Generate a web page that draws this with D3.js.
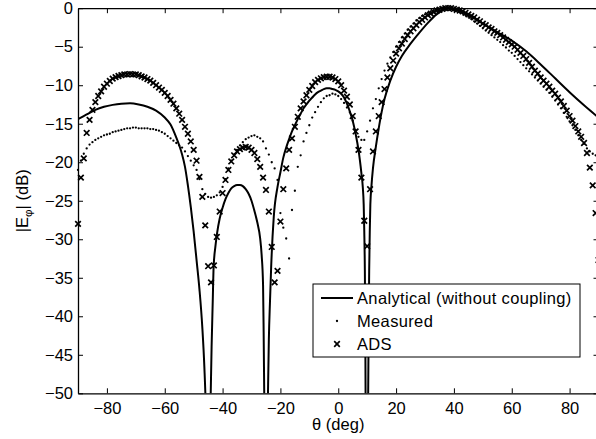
<!DOCTYPE html>
<html><head><meta charset="utf-8">
<script src="https://cdn.jsdelivr.net/npm/d3@7"></script>
<style>
html,body{margin:0;padding:0;background:#fff;}
svg{display:block;font-family:"Liberation Sans",Arial,Helvetica,sans-serif;}
</style></head>
<body><svg id="chart" width="596" height="439"></svg>
<script>
// ---- data ----
const xTicks = [-80, -60, -40, -20, 0, 20, 40, 60, 80];
const yTicks = [0, -5, -10, -15, -20, -25, -30, -35, -40, -45, -50];
const seriesNames = ["Analytical (without coupling)", "Measured", "ADS"];

// Analytical (solid line): angle / value pairs
const analyticalTheta = [-90,-87,-84,-81,-78,-75,-72,-69,-66,-63,-60,-58,-56,-55,-54,-53,-52,-51,-50,-49,-48,-47,-46.3,-45.8,-45,-44.2,-43.8,-43.4,-43.1,-42.5,-41.9,-41,-40,-39,-38,-37,-36,-35,-34,-33,-32,-31,-30,-29,-28,-27,-26.5,-26,-25.8,-25.6,-25,-24.3,-24,-23.6,-23.2,-22.3,-21,-20,-19,-18,-17,-16,-15,-14,-13,-12,-11,-10,-9,-8,-7,-6,-5,-4,-3,-2,-1,0,1,2,3,4,5,6,7,7.5,8,8.5,8.8,9,9.2,9.35,9.45,9.9,10.35,10.5,10.7,10.9,11.1,11.5,12,13,14,15,16,18,20,22,25,28,31,34,37,38,40,43,46,50,55,60,65,70,75,80,85,90];
const analyticalDb = [-14.4,-13.8,-13.2,-12.8,-12.55,-12.4,-12.35,-12.5,-12.8,-13.3,-14.2,-15.1,-16.8,-17.8,-19.0,-20.6,-23.0,-25.8,-29.0,-32.7,-36.5,-41.5,-46.6,-52,-70,-52,-44,-38,-33.6,-31,-29.2,-27.3,-25.9,-24.8,-24.0,-23.4,-23.1,-22.95,-22.95,-23.1,-23.5,-24.1,-25.0,-26.3,-27.8,-29.9,-32,-36,-42,-50,-70,-50,-43,-38,-33.6,-27.1,-23.2,-21.3,-19.4,-18.1,-17.0,-16.0,-15.2,-14.4,-13.7,-13.0,-12.5,-12.0,-11.6,-11.2,-10.9,-10.7,-10.5,-10.4,-10.4,-10.5,-10.6,-10.8,-11.1,-11.6,-12.4,-13.4,-14.6,-16.3,-18.4,-19.8,-21.4,-23.3,-25.5,-29,-34,-42,-50,-70,-50,-42,-34,-29,-25.5,-23,-20.8,-18,-15.6,-13.5,-11.8,-9.4,-7.6,-6.2,-4.6,-3.2,-1.9,-0.8,-0.1,0,-0.1,-0.5,-1.1,-2.0,-3.1,-4.2,-5.6,-7.3,-9.1,-10.9,-12.6,-14.2];

// Measured and ADS are sampled every degree from -90 to 90
const sampleTheta = d3.range(-90, 91, 1);
const measuredDb = [
-21,-19.8,-18.9,-18.2,-17.7,-17.4,-17.1,-16.9,-16.7,-16.5,
-16.4,-16.3,-16.1,-16.0,-15.9,-15.8,-15.7,-15.6,-15.6,-15.5,
-15.5,-15.6,-15.6,-15.6,-15.6,-15.7,-15.7,-15.8,-15.9,-16.1,
-16.3,-16.6,-16.9,-17.2,-17.5,-17.8,-18.1,-18.6,-19.2,-19.8,
-20.4,-21.0,-22.2,-23.5,-24.1,-24.5,-24.6,-24.5,-24.3,-23.9,
-23.2,-22.2,-20.8,-19.8,-19.0,-18.4,-17.8,-17.4,-17.0,-16.8,
-16.6,-16.5,-16.7,-16.9,-17.3,-18.2,-19.0,-20.0,-20.8,-22.3,
-26.6,-28.5,-29.9,-32.5,-26.2,-23.7,-20.6,-19.1,-17.3,-16.2,
-15.2,-14.2,-13.5,-12.8,-12.2,-11.7,-11.4,-11.3,-11.1,-11.2,
-11.4,-11.8,-12.3,-12.9,-13.5,-14.6,-15.8,-16.7,-17.1,-17.1,
-16.0,-14.6,-13.0,-11.8,-10.4,-9.2,-8.1,-7.2,-6.4,-5.7,
-5.0,-4.4,-3.8,-3.3,-2.8,-2.4,-2.0,-1.6,-1.3,-1.0,
-0.8,-0.6,-0.4,-0.25,-0.1,-0.05,0,0,0,-0.1,
-0.2,-0.3,-0.5,-0.7,-0.9,-1.1,-1.4,-1.7,-2.0,-2.3,
-2.6,-2.9,-3.2,-3.5,-3.8,-4.1,-4.4,-4.8,-5.1,-5.5,
-5.8,-6.2,-6.6,-7.0,-7.4,-7.8,-8.2,-8.6,-9.0,-9.4,
-9.8,-10.2,-10.6,-11.0,-11.5,-12.0,-12.5,-13.0,-13.6,-14.1,
-14.7,-15.2,-15.8,-16.5,-17.1,-17.6,-18.2,-18.6,-18.9,-19.1,
-19.3];
const adsDb = [
-28,-22,-19.5,-16.2,-14.5,-13.2,-12.2,-11.4,-10.8,-10.2,
-9.8,-9.45,-9.15,-8.95,-8.8,-8.7,-8.6,-8.6,-8.55,-8.6,
-8.6,-8.7,-8.85,-9.0,-9.2,-9.4,-9.7,-10.0,-10.3,-10.6,
-11.0,-11.4,-11.9,-12.4,-13.0,-13.7,-14.5,-15.4,-16.3,-17.3,
-18.4,-19.8,-21.9,-24.5,-28.2,-33.5,-35.6,-33.4,-29.7,-26.4,
-24.0,-22.3,-21.0,-19.9,-19.1,-18.6,-18.3,-18.1,-18.0,-18.1,
-18.4,-18.8,-19.6,-20.6,-22.0,-23.6,-26.4,-31.0,-35.6,-34.1,
-27.7,-23.5,-20.8,-18.4,-16.9,-15.4,-14.1,-13.0,-12.1,-11.3,
-10.6,-10.1,-9.6,-9.3,-9.1,-8.95,-8.9,-8.9,-9.0,-9.2,
-9.5,-10.0,-10.7,-11.5,-12.5,-14.0,-16.0,-18.4,-22.0,-27.6,
-30.9,-23.5,-18.6,-16.0,-14.0,-12.2,-10.5,-9.0,-7.8,-6.8,
-5.9,-5.2,-4.6,-4.0,-3.5,-3.0,-2.6,-2.2,-1.8,-1.5,
-1.2,-0.9,-0.7,-0.5,-0.3,-0.2,-0.1,0,0,0,
-0.1,-0.2,-0.3,-0.4,-0.6,-0.8,-1.0,-1.2,-1.5,-1.7,
-2.0,-2.2,-2.5,-2.7,-3.0,-3.2,-3.5,-3.8,-4.1,-4.4,
-4.7,-5.0,-5.4,-5.8,-6.2,-6.6,-7.1,-7.6,-8.1,-8.5,
-9.0,-9.4,-9.8,-10.2,-10.7,-11.1,-11.6,-12.1,-12.7,-13.3,
-14.0,-14.6,-15.3,-16.0,-16.7,-17.5,-18.8,-20.7,-23.0,-26.6,
-32.7];

// ---- layout ----
const svg = d3.select("#chart");
const L = 78, R = 598.5, T = 8.2, B = 393.3;
const FONT = 16.5;
const x = d3.scaleLinear().domain([-90, 90]).range([L, R]);
const y = d3.scaleLinear().domain([-50, 0]).range([B, T]);

svg.append("rect").attr("x",0).attr("y",0).attr("width",596).attr("height",439).attr("fill","#fff");

const defs = svg.append("defs");
defs.append("clipPath").attr("id","plotclip").append("rect")
  .attr("x", L).attr("y", T).attr("width", R - L).attr("height", B - T);

// axes (ticks inside, mirrored)
const tickLen = 5;
const axB = svg.append("g").attr("transform",`translate(0,${B})`)
  .call(d3.axisBottom(x).tickValues(xTicks).tickSizeInner(-tickLen).tickSizeOuter(0).tickPadding(8.5)
    .tickFormat(d => d < 0 ? "\u2212" + Math.abs(d) : d));
const axT = svg.append("g").attr("transform",`translate(0,${T})`)
  .call(d3.axisTop(x).tickValues(xTicks).tickSizeInner(-tickLen).tickSizeOuter(0).tickFormat(""));
const axL = svg.append("g").attr("transform",`translate(${L},0)`)
  .call(d3.axisLeft(y).tickValues(yTicks).tickSizeInner(-tickLen).tickSizeOuter(0).tickPadding(5)
    .tickFormat(d => d < 0 ? "\u2212" + Math.abs(d) : d));
const axR = svg.append("g").attr("transform",`translate(${R},0)`)
  .call(d3.axisRight(y).tickValues(yTicks).tickSizeInner(-tickLen).tickSizeOuter(0).tickFormat(""));
[axB, axT, axL, axR].forEach(g => {
  g.select(".domain").attr("stroke","#000").attr("stroke-width",1.3);
  g.selectAll(".tick line").attr("stroke","#000").attr("stroke-width",1);
  g.selectAll("text").attr("font-size", FONT).attr("fill","#000")
    .attr("font-family",'"Liberation Sans",Arial,sans-serif');
});

// plot layer
const plot = svg.append("g").attr("clip-path","url(#plotclip)");

const line = d3.line().x(d => x(d[0])).y(d => y(d[1])).curve(d3.curveMonotoneX);
const analytical = analyticalTheta.map((t, i) => [t, analyticalDb[i]]);
plot.append("path").datum(analytical).attr("d", line)
  .attr("fill","none").attr("stroke","#000").attr("stroke-width",2).attr("stroke-linejoin","round");

const marks = svg.append("g");
marks.selectAll("circle.meas").data(sampleTheta.map((t,i)=>[t, measuredDb[i]]))
  .join("circle").attr("class","meas")
  .attr("cx", d => x(d[0])).attr("cy", d => y(d[1])).attr("r", 1.15).attr("fill","#000");

const cs = 2.8;
const crossPath = `M${-cs},${-cs}L${cs},${cs}M${-cs},${cs}L${cs},${-cs}`;
marks.selectAll("path.ads").data(sampleTheta.map((t,i)=>[t, adsDb[i]]))
  .join("path").attr("class","ads")
  .attr("transform", d => `translate(${x(d[0])},${y(d[1])})`)
  .attr("d", crossPath).attr("stroke","#000").attr("stroke-width",1.7).attr("fill","none");

// axis titles
svg.append("text").attr("x", x(0)).attr("y", 430).attr("text-anchor","middle")
  .attr("font-size", FONT).text("\u03B8 (deg)");
const yl = svg.append("text").attr("transform",`translate(28,${(T+B)/2}) rotate(-90)`)
  .attr("text-anchor","middle").attr("font-size", FONT);
yl.append("tspan").text("|E");
yl.append("tspan").attr("font-size", FONT*0.7).attr("dy", 4).text("\u03C6");
yl.append("tspan").attr("dy", -4).text("| (dB)");

// legend
const lg = svg.append("g");
const lx0 = 313, ly0 = 284, lw = 267, lh = 73;
lg.append("rect").attr("x", lx0).attr("y", ly0).attr("width", lw).attr("height", lh)
  .attr("fill","#fff").attr("stroke","#000").attr("stroke-width",1);
const rowY = [298, 321, 344];
lg.append("line").attr("x1",321).attr("x2",353).attr("y1",rowY[0]).attr("y2",rowY[0])
  .attr("stroke","#000").attr("stroke-width",2);
lg.append("circle").attr("cx",337).attr("cy",rowY[1]).attr("r",1.15).attr("fill","#000");
lg.append("path").attr("transform",`translate(337,${rowY[2]})`).attr("d",crossPath)
  .attr("stroke","#000").attr("stroke-width",1.7);
seriesNames.forEach((n,i) => {
  lg.append("text").attr("x",357).attr("y",rowY[i]).attr("dy","0.36em")
    .attr("font-size", FONT).attr("letter-spacing", 0.35).text(n);
});
</script>
</body></html>
